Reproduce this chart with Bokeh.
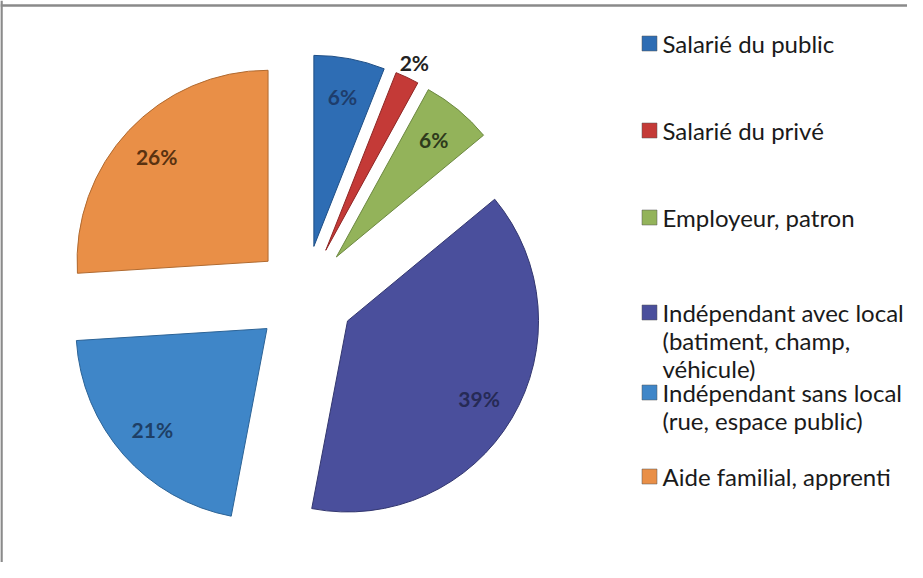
import math
from bokeh.plotting import figure
from bokeh.models import Range1d, ColumnDataSource, Span
from bokeh.embed import file_html
from bokeh.resources import INLINE
from bokeh.core.properties import value

# ---- data ----
categories = [
    "Salarié du public",
    "Salarié du privé",
    "Employeur, patron",
    "Indépendant avec local\n(batiment, champ,\nvéhicule)",
    "Indépendant sans local\n(rue, espace public)",
    "Aide familial, apprenti",
]
shares = [6, 2, 6, 39, 21, 26]
colors = ["#2E6DB4", "#C43A37", "#93B35A", "#4A4F9C", "#3F86C8", "#E98F47"]
edge_colors = ["#1F4F86", "#8E2624", "#6C8840", "#33376F", "#2C6396", "#B06A30"]
label_colors = ["#1E3D6C", "#222222", "#2E3A1C", "#262A55", "#1E3F66", "#5A3210"]

# ---- layout ----
PAGE_H = 578
W, H = 907, 562
FONT = "Lato"

p = figure(width=W, height=H, output_backend="svg", toolbar_location=None,
           x_range=Range1d(8, 8 + W), y_range=Range1d(PAGE_H - 8 - H, PAGE_H - 8),
           min_border=0, outline_line_color=None, background_fill_color="white",
           border_fill_color="white")
p.axis.visible = False
p.grid.visible = False

cx, cy = 312, PAGE_H - 303
explode = 50
R = 191

total = sum(shares)
xs, ys, starts, ends, lx, ly, ltxt = [], [], [], [], [], [], []
cum = 0.0
for s in shares:
    t1 = 360.0 * cum / total
    t2 = 360.0 * (cum + s) / total
    b = math.radians((t1 + t2) / 2)
    vx = cx + explode * math.sin(b)
    vy = cy + explode * math.cos(b)
    xs.append(vx)
    ys.append(vy)
    starts.append(math.radians(90 - t2))
    ends.append(math.radians(90 - t1))
    r = R + 17 if s < 4 else 0.8 * R
    lx.append(vx + r * math.sin(b))
    ly.append(vy + r * math.cos(b))
    ltxt.append(f"{s}%")
    cum += s

src = ColumnDataSource(dict(x=xs, y=ys, start=starts, end=ends, color=colors,
                            edge=edge_colors))
p.wedge(x="x", y="y", radius=R, start_angle="start", end_angle="end",
        fill_color="color", line_color="edge", line_width=1,
        source=src)

lsrc = ColumnDataSource(dict(x=lx, y=ly, text=ltxt, color=label_colors))
p.text(x="x", y="y", text="text", text_color="color", source=lsrc,
       text_font=value(FONT), text_font_size="21px", text_font_style="bold",
       text_align="center", text_baseline="middle")

# ---- legend ----
item_y = [51, 138, 225, 320, 400, 484]
line_gap = 28
sq_x, txt_x = 657, 670
sq = dict(x=[], y=[], color=[])
tl = dict(x=[], y=[], text=[])
for name, col, yy in zip(categories, colors, item_y):
    sq["x"].append(sq_x)
    sq["y"].append(PAGE_H - yy)
    sq["color"].append(col)
    for k, line in enumerate(name.split("\n")):
        tl["x"].append(txt_x)
        tl["y"].append(PAGE_H - (yy + k * line_gap))
        tl["text"].append(line)
p.scatter(x="x", y="y", marker="square", size=15, fill_color="color",
          line_color="#555555", line_width=0.5, source=ColumnDataSource(sq))
p.text(x="x", y="y", text="text", source=ColumnDataSource(tl),
       text_font=value(FONT), text_font_size="24px", text_color="#1a1a1a",
       text_align="left", text_baseline="middle")

# ---- frame lines (top & left) ----
p.add_layout(Span(location=PAGE_H - 13, dimension="width", line_color="#8a8a8a", line_width=2.5))
p.add_layout(Span(location=9, dimension="height", line_color="#8a8a8a", line_width=2.5))

open("out.html", "w").write(file_html(p, INLINE))
